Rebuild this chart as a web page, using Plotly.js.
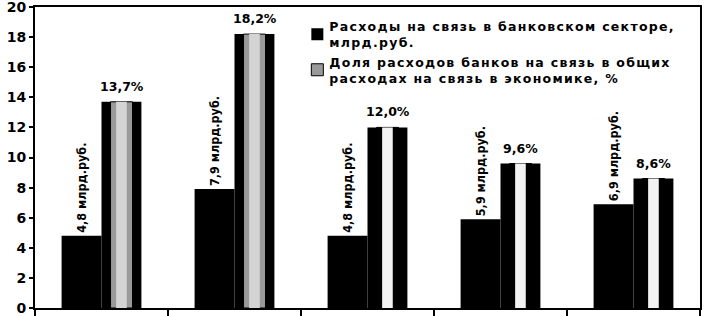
<!DOCTYPE html>
<html>
<head>
<meta charset="utf-8">
<script src="https://cdn.plot.ly/plotly-3.0.1.min.js"></script>
<style>
html,body{margin:0;padding:0;background:#fff;}
#chart{width:704px;height:316px;}
.legendtext{letter-spacing:1.3px;}
</style>
</head>
<body>
<div id="chart"></div>
<script>
// ---- data ----
const categories = ["Период 1", "Период 2", "Период 3", "Период 4", "Период 5"];
const spendValues = [4.8, 7.9, 4.8, 5.9, 6.9];
const spendLabels = ["4,8 млрд.руб.", "7,9 млрд.руб.", "4,8 млрд.руб.", "5,9 млрд.руб.", "6,9 млрд.руб."];
const shareValues = [13.7, 18.2, 12.0, 9.6, 8.6];
const shareLabels = ["13,7%", "18,2%", "12,0%", "9,6%", "8,6%"];
const seriesNames = [
  "Расходы на связь в банковском секторе,<br>млрд.руб.",
  "Доля расходов банков на связь в общих<br>расходах на связь в экономике, %"
];
const yTicks = [0, 2, 4, 6, 8, 10, 12, 14, 16, 18, 20];

// ---- styles ----
const midColors = ["#9a9a9a", "#9a9a9a", "#000000", "#000000", "#000000"];
const innerColors = ["#d4d4d4", "#d4d4d4", "#f2f2f2", "#f2f2f2", "#f2f2f2"];

const traces = [
  {
    type: "bar", x: categories, y: spendValues, name: seriesNames[0],
    width: 0.30, offset: -0.30,
    marker: {color: "#000", line: {width: 0}},
    text: spendLabels, textposition: "outside", textangle: -90,
    constraintext: "none", cliponaxis: false,
    textfont: {family: "DejaVu Sans Condensed, Liberation Sans Narrow, DejaVu Sans, sans-serif", size: 12.5, color: "#000", weight: "bold"},
    hoverinfo: "none"
  },
  {
    type: "bar", x: categories, y: shareValues, showlegend: false,
    width: 0.30, offset: 0,
    marker: {color: "#000", line: {width: 0}}, hoverinfo: "none"
  },
  {
    type: "bar", x: categories, y: shareValues, name: seriesNames[1],
    width: 0.165, offset: 0.068,
    marker: {color: midColors, line: {width: 1, color: "#000"}}, hoverinfo: "none"
  },
  {
    type: "bar", x: categories, y: shareValues, showlegend: false,
    width: 0.08, offset: 0.11,
    marker: {color: innerColors, line: {width: 0}}, hoverinfo: "none"
  }
];

const annotations = categories.map((c, i) => ({
  x: i, y: shareValues[i], xref: "x", yref: "y",
  text: shareLabels[i], showarrow: false,
  xshift: 20, yshift: 6, yanchor: "bottom", xanchor: "center",
  font: {family: "DejaVu Sans, Arial, sans-serif", size: 12.5, color: "#000", weight: "bold"}
}));

const layout = {
  width: 704, height: 316,
  margin: {l: 35, r: 4, t: 7, b: 8, pad: 0},
  paper_bgcolor: "#fff", plot_bgcolor: "#fff",
  barmode: "overlay",
  showlegend: true,
  legend: {
    x: 0.3945, y: 0.985, xanchor: "left", yanchor: "top",
    bgcolor: "rgba(0,0,0,0)", borderwidth: 0,
    font: {family: "DejaVu Sans, Arial, sans-serif", size: 12.5, color: "#000", weight: "bold"},
    itemwidth: 30, traceorder: "normal"
  },
  xaxis: {
    type: "category", showticklabels: false, showgrid: false,
    ticks: "outside", tickson: "boundaries", ticklen: 6, tickwidth: 2, tickcolor: "#000",
    showline: true, linecolor: "#000", linewidth: 2, mirror: true, zeroline: false,
    range: [-0.5, 4.5]
  },
  yaxis: {
    range: [0, 20], tickvals: yTicks, ticktext: yTicks.map(String),
    showgrid: false, zeroline: false, ticklabeloverflow: "allow",
    ticks: "outside", ticklen: 4, tickwidth: 2, tickcolor: "#000",
    showline: true, linecolor: "#000", linewidth: 2, mirror: true,
    tickfont: {family: "DejaVu Sans, Arial, sans-serif", size: 14, color: "#000", weight: "bold"}
  },
  annotations: annotations
};

Plotly.newPlot("chart", traces, layout, {staticPlot: true, displayModeBar: false}).then(function (gd) {
  // pull legend text slightly closer to its icon, as in the reference
  gd.querySelectorAll(".legendtext").forEach(function (t) {
    const shift = -8;
    const x0 = parseFloat(t.getAttribute("x") || "0");
    t.setAttribute("x", x0 + shift);
    t.querySelectorAll("tspan[x]").forEach(function (s) {
      s.setAttribute("x", parseFloat(s.getAttribute("x")) + shift);
    });
  });
});
</script>
</body>
</html>
